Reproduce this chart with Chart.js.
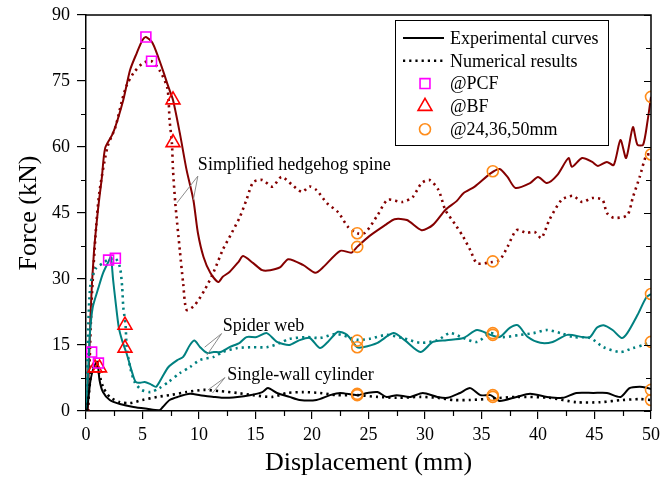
<!DOCTYPE html>
<html>
<head>
<meta charset="utf-8" />
<script src="https://cdn.jsdelivr.net/npm/chart.js@4.4.0/dist/chart.umd.min.js"></script>
<style>
  html, body { margin: 0; padding: 0; background: #fff; }
</style>
<title>Force - displacement</title>
</head>
<body>
<canvas id="chart" width="671" height="481"></canvas>
<script>
// ---- data (displacement in mm, force in kN) ----
var hedgeExpX = [0.15,0.4,0.7,1.06,1.4,1.7,2.4,3.3,3.9,4.5,5.0,5.3,5.9,6.7,7.3,7.7,8.3,8.9,9.5,9.9,10.4,11.0,11.7,12.1,12.7,13.5,13.9,14.8,15.6,16.3,17.2,17.9,19.2,20.3,21.0,22.5,23.5,24.0,25.1,26.5,27.3,28.4,29.7,30.7,31.8,32.8,33.4,34.4,35.8,36.6,37.3,38.0,39.3,40.0,40.8,41.7,42.7,43.0,43.9,44.8,45.3,46.1,46.7,47.3,47.8,48.4,48.8,49.3,49.7,50];
var hedgeExpY = [0,22,36,45.7,53,59.8,63.2,70.7,77.5,81.4,84.3,85,83.6,78.2,73.6,70.7,63.2,54.8,48,40.5,35,31.4,29.3,30.5,31.6,33.9,35.2,33.6,32,32,32.7,34.5,33.2,31.4,32.7,36.4,36,37.3,39.8,42.3,43.6,43.4,41.1,42.3,45.7,47.7,49.5,51,54,55,53.2,50.7,51.8,53.2,51.8,53.6,57.5,55.5,57.5,56.6,55.7,56.6,55.9,61.6,57.5,64.5,60.5,60.5,66,71.4];

var hedgeNumX = [0.2,0.5,0.9,1.2,1.9,2.6,3.2,3.6,4.2,5.0,5.8,6.5,7.2,7.4,7.6,7.7,7.9,8.3,8.6,8.9,9.6,10.5,11.3,12.1,12.9,13.6,14.2,14.8,15.6,16.5,17.3,18.2,19.1,19.8,20.4,21.3,22.3,23.2,24.0,24.7,25.8,26.7,28.0,28.9,29.7,30.4,31.2,31.8,32.7,33.4,34.0,34.6,35.8,36.6,37.3,38.1,39.0,39.7,40.3,41.0,42.1,43.1,43.9,44.8,45.7,46.1,46.7,47.9,48.4,49.0,49.6,50];
var hedgeNumY = [0,25,42,50,60,64.5,70.7,74,76.8,79,79.5,77.5,73.4,66,61,54.8,47.3,36.6,29,23,24,27.5,31.6,36.6,40.5,44,48,52,52.5,51,53.2,51.5,49.8,51,50.2,47.3,45.2,41.8,40.4,40.5,44.5,48,47.5,48.6,51.8,52.5,50.2,45.7,42.3,39.5,36.6,33.6,33.8,34.3,37.3,41.1,40.5,40.7,39.3,43.4,48,48.9,47.5,48.4,48,45,43.9,44.5,48.6,53.2,58.2,58.3];

var spiderExpX = [0.05,0.2,0.35,0.6,1.1,1.5,2.0,2.2,2.4,2.6,2.9,3.2,3.6,4.1,4.4,4.8,5.2,5.7,6.2,6.7,7.3,8.1,8.6,9.2,9.6,10.1,10.7,11.3,11.9,12.7,13.6,14.2,15.1,16.0,16.9,18.0,18.9,19.8,20.7,21.4,22.3,23.1,24.0,24.5,25.8,27.2,28.2,29.6,30.7,31.9,33.4,34.6,35.8,36.6,37.5,38.2,39.1,40.2,41.3,42.6,44.0,44.6,45.2,45.8,46.6,47.4,47.9,48.8,49.6,50];
var spiderExpY = [0,10,17.7,23.6,28,31.3,34,35,29.8,25.2,19,16,13,8.6,6.6,6.4,6.6,6.1,5.5,7.5,10,11.6,12.3,15,16,14.5,13.2,13.4,13.4,14.5,15.5,16.8,16.8,17.7,15.7,15,16.1,16.6,14.3,15.7,18,17.3,14.5,14.5,15.5,17.7,16.1,13.4,15.7,16.1,16.6,18.4,17.3,16.8,18.9,19.5,16.8,15.5,15.7,17.3,16.8,16.8,18.9,19.5,18.4,16.6,17.7,21.8,25.9,26.6];

var spiderNumX = [0.05,0.15,0.4,0.9,1.5,1.9,2.6,3.0,3.2,3.3,3.5,3.6,3.9,4.3,4.9,5.7,6.5,7.3,8.3,9.2,10.1,11.3,12.1,13.4,14.8,16.0,17.2,18.0,19.6,20.7,22.2,24.0,25.1,26.6,28.0,29.6,31.1,32.2,33.4,34.6,35.8,36.9,38.4,39.6,40.8,42.0,43.1,44.6,45.8,47.3,48.4,49.3,50];
var spiderNumY = [0,15,29,32.5,33.6,34.3,34.7,32.7,28.2,23.6,19.6,14.5,10,6.6,4.8,4.3,5.2,6.6,8.6,10,11.6,12.3,13.4,14.3,14.5,14.5,15.5,16.4,16.8,16.6,17.5,16.2,16.4,17.3,16.6,15.5,16.1,17.7,16.6,15.7,17.7,16.8,17.3,17.7,18.4,17.7,16.8,16.6,14.5,13.4,14.3,15,15.7];

var cylExpX = [0.1,0.4,0.7,1.0,1.2,1.5,2.1,3.0,4.2,5.4,6.5,6.8,7.4,8.1,9.2,10.1,11.3,12.1,13.4,14.5,15.6,16.1,16.9,18.0,18.9,20.4,21.6,22.5,24.0,24.9,25.8,26.6,27.5,28.7,29.8,31.1,32.0,33.1,34.0,34.9,35.8,36.6,38.1,39.3,40.8,42.2,43.4,44.9,46.1,47.3,48.1,49.0,49.6,50];
var cylExpY = [0,7,10,11.2,7,4.3,2.5,1.6,0.9,0.5,0.2,0.9,2.5,3.2,3.9,3.6,3.2,3,3.2,3.6,4.3,5.2,4.1,3.2,2.5,2.5,3.6,4.1,3.6,4.1,4.3,3.2,3.6,3.2,4.1,3.2,3,4.1,5.2,3.6,3.6,2.3,3.2,3.9,3.2,3,4.1,4.1,4.1,3.2,5.2,5.5,5.3,5.0];

var cylNumX = [0.1,0.5,0.9,1.5,2.1,3.0,3.9,5.0,6.3,7.4,8.9,10.4,11.9,13.4,14.8,16.5,17.8,19.2,20.7,22.2,24.0,25.8,27.5,29.6,31.1,32.5,34.0,35.8,38.1,41.0,43.4,45.5,47.5,49.0,50];
var cylNumY = [0,9,10.5,5.5,3.2,2,1.8,2.5,3.2,3.6,4.3,4.8,4.5,4.1,3.6,3.2,4.1,4.3,4.1,3.6,3.6,3.2,3,3.2,3,2.5,2.5,2.8,3.2,3,2,2,2.5,2.7,2.5];

// marked points
var pcfX = [5.3, 5.8, 2.0, 2.6, 0.5, 1.1];
var pcfY = [85, 79.5, 34.3, 34.7, 13.4, 10.9];
var bfX = [7.7, 7.7, 3.45, 3.45, 0.8, 1.2];
var bfY = [70.7, 61, 19.5, 14.3, 9.8, 9.8];
var stopX = [24, 24, 24, 24, 24, 24, 36, 36, 36, 36, 36, 36, 50, 50, 50, 50, 50, 50];
var stopY = [40.4, 37.3, 16.0, 14.5, 3.9, 3.6, 54.5, 34.0, 17.7, 17.3, 3.6, 3.2, 71.4, 58.3, 26.6, 15.7, 4.8, 2.5];

// labels on the plot: text anchor and the two leader-line ends (data units)
var noteText = ['Simplified hedgehog spine', 'Spider web', 'Single-wall cylinder'];
var noteX = [9.9, 12.1, 12.5];
var noteY = [54.8, 18.2, 7.0];
var noteFrom = [[9.9, 53.4], [12.0, 17.6], [12.3, 7.6]];
var noteTo = [[[8.05, 47.3], [9.5, 48]], [[10.5, 14.5], [10.7, 12.7]], [[10.8, 4.8], [11.2, 4.1]]];

var legendText = ['Experimental curves', 'Numerical results', '@PCF', '@BF', '@24,36,50mm'];

var SERIF = '"Liberation Serif", "Times New Roman", serif';
var DARKRED = '#850000', TEAL = '#008080';

function pts(xs, ys) {
    return xs.map(function (x, i) { return { x: x, y: ys[i] }; });
}

function curve(xs, ys, color, dotted) {
    return {
        data: pts(xs, ys),
        showLine: true,
        borderColor: color,
        borderWidth: dotted ? 2.6 : 2,
        borderDash: dotted ? [2.2, 4] : [],
        pointRadius: 0,
        tension: 0.25,
        fill: false
    };
}

function marks(xs, ys, style, color, r) {
    return {
        data: pts(xs, ys),
        showLine: false,
        pointStyle: style,
        pointRadius: r,
        pointBorderColor: color,
        pointBackgroundColor: 'rgba(0,0,0,0)',
        pointBorderWidth: 1.6,
        clip: 0
    };
}

function isMajor(v, step) {
    return Math.abs(v / step - Math.round(v / step)) < 1e-6;
}

// frame, minor ticks, right ticks, legend box and the notes
var extras = {
    id: 'extras',
    afterDraw: function (chart) {
        var ctx = chart.ctx, a = chart.chartArea, x = chart.scales.x, y = chart.scales.y;
        ctx.save();
        ctx.strokeStyle = '#000';
        ctx.lineWidth = 1.5;
        ctx.beginPath();
        ctx.moveTo(a.left, a.top);
        ctx.lineTo(a.right, a.top);
        ctx.lineTo(a.right, a.bottom);
        ctx.stroke();

        ctx.lineWidth = 1.2;
        ctx.beginPath();
        y.ticks.forEach(function (t) {
            var py = Math.round(y.getPixelForValue(t.value)) + 0.5;
            var len = isMajor(t.value, 15) ? 7 : 5;
            ctx.moveTo(a.right, py);
            ctx.lineTo(a.right - len, py);
            if (!isMajor(t.value, 15)) {
                ctx.moveTo(a.left, py);
                ctx.lineTo(a.left - 5, py);
            }
        });
        x.ticks.forEach(function (t) {
            if (isMajor(t.value, 5)) return;
            var px = Math.round(x.getPixelForValue(t.value)) + 0.5;
            ctx.moveTo(px, a.bottom);
            ctx.lineTo(px, a.bottom + 5);
        });
        ctx.stroke();

        // notes
        ctx.font = '18px ' + SERIF;
        ctx.fillStyle = '#000';
        ctx.textBaseline = 'alphabetic';
        ctx.textAlign = 'left';
        ctx.strokeStyle = '#8c8c8c';
        ctx.lineWidth = 1;
        for (var i = 0; i < noteText.length; i++) {
            ctx.fillText(noteText[i], x.getPixelForValue(noteX[i]), y.getPixelForValue(noteY[i]));
            var fx = x.getPixelForValue(noteFrom[i][0]), fy = y.getPixelForValue(noteFrom[i][1]);
            ctx.beginPath();
            noteTo[i].forEach(function (p) {
                ctx.moveTo(fx, fy);
                ctx.lineTo(x.getPixelForValue(p[0]), y.getPixelForValue(p[1]));
            });
            ctx.stroke();
        }

        // legend
        var lx = a.right - 256, ly = a.top + 5, lw = 213, lh = 125, row = 22.8;
        ctx.fillStyle = '#fff';
        ctx.fillRect(lx, ly, lw, lh);
        ctx.strokeStyle = '#000';
        ctx.lineWidth = 1;
        ctx.strokeRect(lx + 0.5, ly + 0.5, lw, lh);
        ctx.textBaseline = 'middle';
        for (var k = 0; k < legendText.length; k++) {
            var cy = ly + 18 + k * row;
            ctx.fillStyle = '#000';
            ctx.fillText(legendText[k], lx + 55, cy + 1);
            var sx = lx + 30;
            if (k === 0 || k === 1) {
                ctx.strokeStyle = '#000';
                ctx.lineWidth = k === 0 ? 2 : 2.4;
                ctx.setLineDash(k === 0 ? [] : [2.2, 4]);
                ctx.beginPath();
                ctx.moveTo(lx + 8, cy);
                ctx.lineTo(lx + 49, cy);
                ctx.stroke();
                ctx.setLineDash([]);
            } else {
                var st = ['rect', 'triangle', 'circle'][k - 2];
                var col = ['#ff00ff', '#ff0000', '#ff8c1a'][k - 2];
                var rr = [7, 8, 5.5][k - 2];
                ctx.strokeStyle = col;
                ctx.fillStyle = 'rgba(0,0,0,0)';
                ctx.lineWidth = 1.6;
                Chart.helpers.drawPoint(ctx, { pointStyle: st, radius: rr, rotation: 0, borderWidth: 1.6 }, sx, cy);
            }
        }
        ctx.restore();
    }
};

new Chart(document.getElementById('chart'), {
    type: 'scatter',
    data: {
        datasets: [
            marks(pcfX, pcfY, 'rect', '#ff00ff', 7),
            marks(bfX, bfY, 'triangle', '#ff0000', 8),
            marks(stopX, stopY, 'circle', '#ff8c1a', 5.5),
            curve(cylExpX, cylExpY, '#000', false),
            curve(cylNumX, cylNumY, '#000', true),
            curve(spiderExpX, spiderExpY, TEAL, false),
            curve(spiderNumX, spiderNumY, TEAL, true),
            curve(hedgeExpX, hedgeExpY, DARKRED, false),
            curve(hedgeNumX, hedgeNumY, DARKRED, true)
        ]
    },
    options: {
        responsive: false,
        animation: false,
        layout: { padding: { top: 15, right: 20, left: 0, bottom: 0 } },
        plugins: { legend: { display: false }, tooltip: { enabled: false } },
        scales: {
            x: {
                type: 'linear',
                min: 0, max: 50,
                afterFit: function (s) { s.height = 70; s.paddingLeft = 0; s.paddingRight = 0; },
                ticks: {
                    stepSize: 2.5, autoSkip: false, maxRotation: 0, color: '#000', padding: 5,
                    font: { family: SERIF, size: 18 },
                    callback: function (v) { return isMajor(v, 5) ? v : ''; }
                },
                grid: {
                    drawOnChartArea: false, drawTicks: true, tickLength: 8, lineWidth: 1.2,
                    tickColor: function (c) { return c.tick && isMajor(c.tick.value, 5) ? '#000' : 'rgba(0,0,0,0)'; }
                },
                border: { display: true, color: '#000', width: 1.5 },
                title: { display: true, text: 'Displacement (mm)', color: '#000', font: { family: SERIF, size: 26 }, padding: { top: 0, bottom: 2 } }
            },
            y: {
                type: 'linear',
                min: 0, max: 90,
                afterFit: function (s) { s.width = 86; s.paddingTop = 0; s.paddingBottom = 0; },
                ticks: {
                    stepSize: 7.5, autoSkip: false, color: '#000', padding: 7,
                    font: { family: SERIF, size: 18 },
                    callback: function (v) { return isMajor(v, 15) ? v : ''; }
                },
                grid: {
                    drawOnChartArea: false, drawTicks: true, tickLength: 9, lineWidth: 1.2,
                    tickColor: function (c) { return c.tick && isMajor(c.tick.value, 15) ? '#000' : 'rgba(0,0,0,0)'; }
                },
                border: { display: true, color: '#000', width: 1.5 },
                title: { display: true, text: 'Force (kN)', color: '#000', font: { family: SERIF, size: 26 }, padding: { top: 14, bottom: 0 } }
            }
        }
    },
    plugins: [extras]
});
</script>
</body>
</html>
